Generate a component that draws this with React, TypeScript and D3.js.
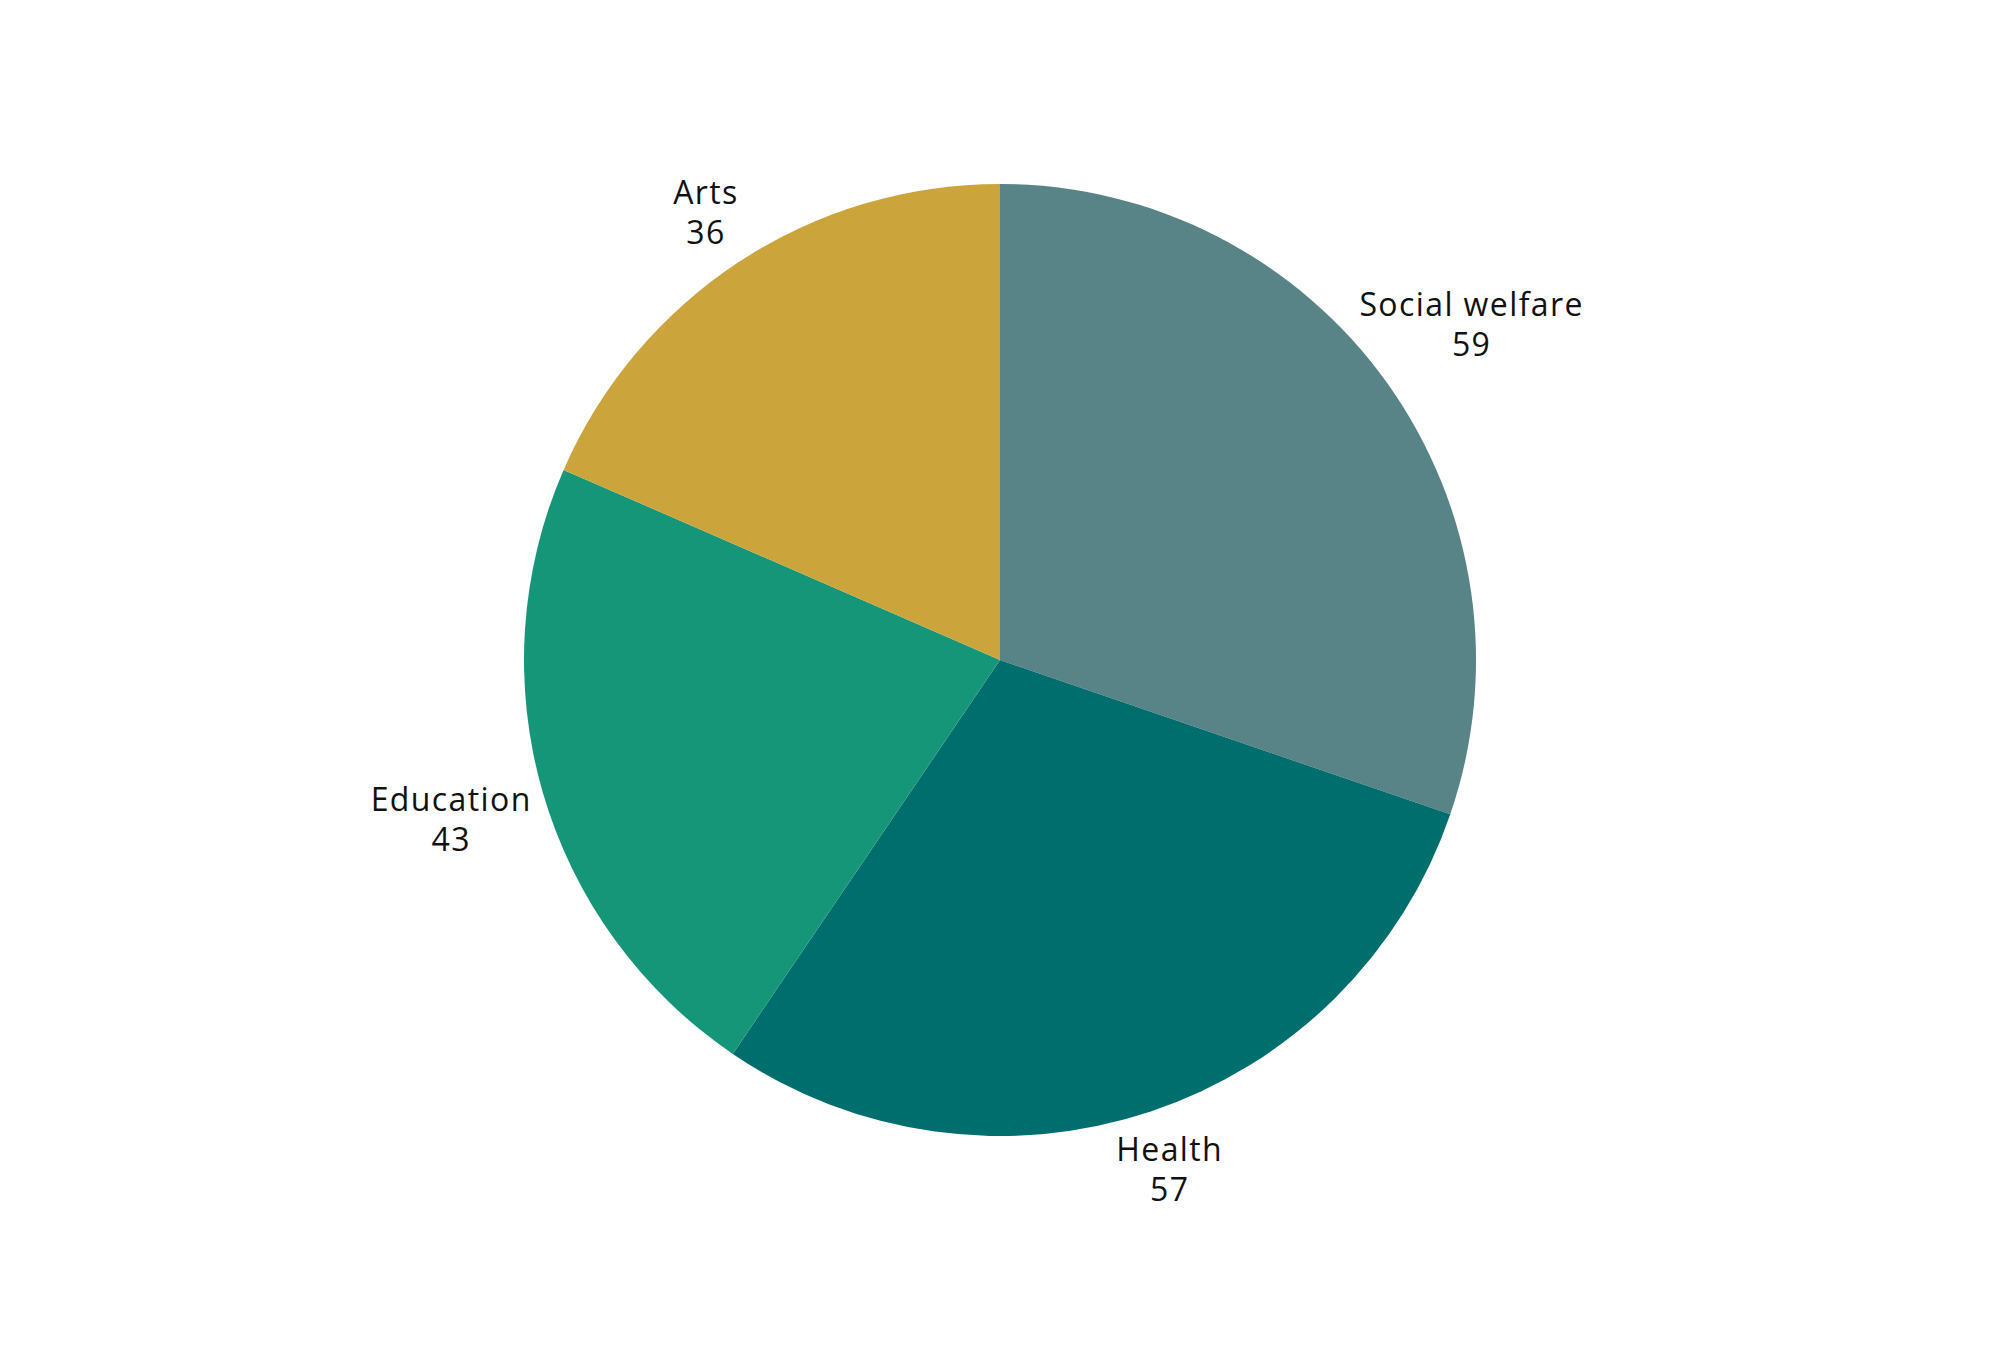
import { useEffect, useRef } from 'react';
import * as d3 from 'd3';

// Chart data
const categories: string[] = ['Social welfare', 'Health', 'Education', 'Arts'];
const values: number[] = [59, 57, 43, 36];
const sliceColors: string[] = ['#588387', '#006e6d', '#169679', '#cca43c'];

interface Slice {
    name: string;
    value: number;
    color: string;
}

const WIDTH = 2000;
const HEIGHT = 1350;

export default function App() {
    const svgRef = useRef<SVGSVGElement>(null);

    useEffect(() => {
        if (!svgRef.current) return;
        const svg = d3.select(svgRef.current);
        svg.selectAll('*').remove();

        const data: Slice[] = categories.map((name, i) => ({
            name,
            value: values[i],
            color: sliceColors[i],
        }));

        // Pie geometry
        const cx = WIDTH / 2;
        const cy = 660;
        const radius = 476;

        const pie = d3.pie<Slice>()
            .sort(null)
            .value(d => d.value);

        const arc = d3.arc<d3.PieArcDatum<Slice>>()
            .innerRadius(0)
            .outerRadius(radius);

        const arcs = pie(data);

        const g = svg.append('g')
            .attr('transform', `translate(${cx},${cy})`);

        g.append('g')
            .selectAll('path')
            .data(arcs)
            .join('path')
            .attr('fill', d => d.data.color)
            .attr('d', arc);

        // Outside labels: name + value, pushed out by the label's horizontal extent
        const labels = g.append('g')
            .attr('text-anchor', 'middle')
            .style('font-family', '"Open Sans", "Noto Sans", sans-serif')
            .style('font-size', '32px')
            .style('letter-spacing', '1.4px')
            .attr('fill', '#111')
            .selectAll('text')
            .data(arcs)
            .join('text');

        labels.append('tspan')
            .attr('x', 0)
            .attr('y', 0)
            .text(d => d.data.name);

        labels.append('tspan')
            .attr('x', 0)
            .attr('y', 40)
            .text(d => d.data.value);

        labels.attr('transform', function (d) {
            const bb = (this as SVGTextElement).getBBox();
            const mid = (d.startAngle + d.endAngle) / 2;
            const ux = Math.sin(mid);
            const uy = -Math.cos(mid);
            const dist = radius * 1.105 + 0.587 * (bb.width / 2) * Math.abs(ux);
            const tx = dist * ux;
            const ty = dist * uy;
            // centre the text block on the target point
            const bx = bb.x + bb.width / 2;
            const by = bb.y + bb.height / 2;
            return `translate(${tx - bx},${ty - by})`;
        });
    }, []);

    return (
        <svg
            ref={svgRef}
            width={WIDTH}
            height={HEIGHT}
            viewBox={`0 0 ${WIDTH} ${HEIGHT}`}
            style={{ position: 'absolute', left: 0, top: 0, background: '#fff', display: 'block' }}
        />
    );
}
